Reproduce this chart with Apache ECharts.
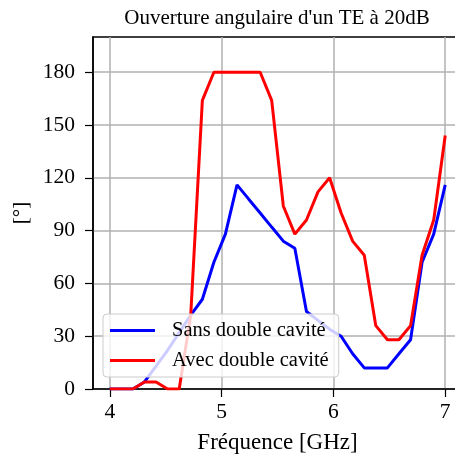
<!DOCTYPE html>
<html><head><meta charset="utf-8">
<script src="https://cdn.jsdelivr.net/npm/echarts@6/dist/echarts.min.js"></script>
<style>html,body{margin:0;padding:0;background:#fff}#c{width:455px;height:457px}</style>
</head><body><div id="c"></div>
<script>
var freqs = [4.000,4.103,4.207,4.310,4.414,4.517,4.621,4.724,4.828,4.931,5.034,5.138,5.241,5.345,5.448,5.552,5.655,5.759,5.862,5.966,6.069,6.172,6.276,6.379,6.483,6.586,6.690,6.793,6.897,7.000];
var sansValues = [0,0,0,4,13,22,32,42,51,72,88,116,108,100,92,84,80,44,39,34,30,20,12,12,12,20,28,72,88,116];
var avecValues = [0,0,0,4,4,0,0,42,164,180,180,180,180,180,164,104,88,96,112,120,100,84,76,36,28,28,36,76,96,144];
var xTicks = [4,5,6,7];
var yTicks = [0,30,60,90,120,150,180];
var title = "Ouverture angulaire d'un TE à 20dB";
var xName = "Fréquence [GHz]";
var yName = "[°]";
var seriesNames = ["Sans double cavité","Avec double cavité"];

function zip(xs, ys){ return xs.map(function(x,i){ return [x, ys[i]]; }); }
var FONT = "'Liberation Serif', 'DejaVu Serif', serif";
var chart = echarts.init(document.getElementById('c'), null, {renderer:'canvas'});
chart.setOption({
  animation:false,
  backgroundColor:'#fff',
  title:{text:title, left:272, top:3, textAlign:'center',
    textStyle:{fontFamily:FONT, fontSize:21, fontWeight:'normal', color:'#000'}},
  grid:{left:93, top:37, width:369, height:352, show:true, borderColor:'#000', borderWidth:1.5, containLabel:false, outerBoundsMode:'none'},
  xAxis:{type:'value', min:3.85, max:7.15,
    name:xName, nameLocation:'middle', nameGap:42,
    nameTextStyle:{fontFamily:FONT, fontSize:23, color:'#000'},
    axisLine:{show:true, onZero:false, lineStyle:{color:'#000', width:1.5}},
    axisTick:{show:true, length:8, customValues:xTicks, lineStyle:{color:'#000', width:1.2}},
    axisLabel:{customValues:xTicks, margin:12, fontFamily:FONT, fontSize:21.5, color:'#000'},
    splitLine:{show:true, lineStyle:{color:'#b0b0b0', width:1.5}}},
  yAxis:{type:'value', min:0, max:200,
    name:yName, nameLocation:'middle', nameGap:60, nameRotate:90,
    nameTextStyle:{fontFamily:FONT, fontSize:21, color:'#000'},
    axisLine:{show:true, lineStyle:{color:'#000', width:1.5}},
    axisTick:{show:true, length:8, customValues:yTicks, lineStyle:{color:'#000', width:1.2}},
    axisLabel:{customValues:yTicks, margin:18, fontFamily:FONT, fontSize:21.5, color:'#000'},
    splitLine:{show:true, lineStyle:{color:'#b0b0b0', width:1.5}}},
  legend:{left:103, top:314, orient:'vertical', icon:'rect', itemWidth:45, itemHeight:3, itemGap:9,
    padding:[6,10,6,7], backgroundColor:'rgba(255,255,255,0.8)', borderColor:'#ccc', borderWidth:1, borderRadius:4,
    textStyle:{fontFamily:FONT, fontSize:20.5, color:'#000', lineHeight:21, padding:[0,0,0,12]},
    data:seriesNames},
  series:[
    {name:seriesNames[0], type:'line', data:zip(freqs, sansValues), symbol:'none', lineStyle:{color:'#0000ff', width:3}, itemStyle:{color:'#0000ff'}},
    {name:seriesNames[1], type:'line', data:zip(freqs, avecValues), symbol:'none', lineStyle:{color:'#ff0000', width:3}, itemStyle:{color:'#ff0000'}}
  ]
});
</script></body></html>
